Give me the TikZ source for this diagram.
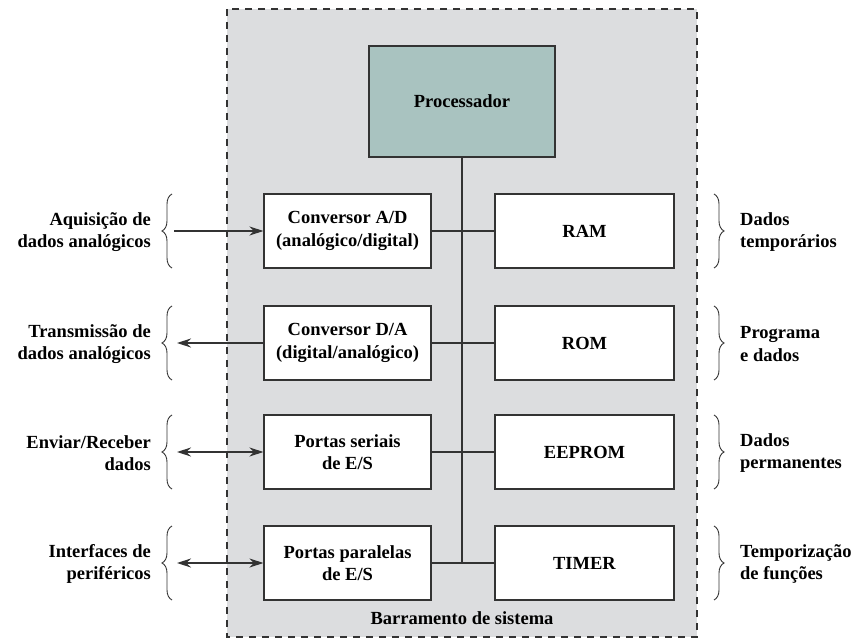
\documentclass[tikz,border=0pt]{standalone}
\usepackage{fontspec}
\setmainfont{Liberation Serif}
\usetikzlibrary{arrows.meta,decorations.pathreplacing}
\definecolor{bggray}{HTML}{DCDDDF}
\definecolor{proc}{HTML}{A9C3C0}
\definecolor{edge}{HTML}{333333}
\begin{document}
\begin{tikzpicture}[x=1pt,y=-1pt,
  txt/.style={font=\bfseries\fontsize{18.5}{22.5}\selectfont},
  box/.style={txt,draw=edge,line width=1.1pt,fill=white,minimum width=167pt,minimum height=74pt,inner sep=0pt,align=center},
  rbox/.style={box,minimum width=179pt},
  lbl/.style={txt,align=right,inner sep=0pt},
  rlbl/.style={txt,align=left,inner sep=0pt},
  brc/.style={draw=edge,line width=0.9pt,decorate,decoration={brace,amplitude=10pt}},
  conn/.style={draw=edge,line width=1.1pt},
  arr/.style={conn,-{Stealth[length=14pt,width=9pt]}},
  darr/.style={conn,{Stealth[length=14pt,width=9pt]}-{Stealth[length=14pt,width=9pt]}}]
\useasboundingbox (0,0) rectangle (856,639);
\fill[bggray] (227,9) rectangle (697,637);
\draw[edge,line width=2.2pt,dash pattern=on 7pt off 6pt] (227,9) rectangle (697,637);
\node[box,fill=proc,minimum width=186pt,minimum height=111pt] (p) at (462,101.5) {Processador};
\node[box] (ad) at (347.5,231) {Conversor A/D\\(analógico/digital)};
\node[box] (da) at (347.5,343) {Conversor D/A\\(digital/analógico)};
\node[box] (ser) at (347.5,452) {Portas seriais\\de E/S};
\node[box] (par) at (347.5,563) {Portas paralelas\\de E/S};
\node[rbox] (ram) at (584.5,231) {RAM};
\node[rbox] (rom) at (584.5,343) {ROM};
\node[rbox] (eep) at (584.5,452) {EEPROM};
\node[rbox] (tim) at (584.5,563) {TIMER};
\node[txt,inner sep=0pt] (bus) at (462,618) {Barramento de sistema};
% bus
\coordinate (busend) at (462,563);
\draw[conn] (p.south) -- (busend);
\draw[conn] (ad.east) -- (ram.west);
\draw[conn] (da.east) -- (rom.west);
\draw[conn] (ser.east) -- (eep.west);
\draw[conn] (par.east) -- (tim.west);
% left labels
\node[lbl,anchor=east] (l1) at (151,232) {Aquisição de\\dados analógicos};
\node[lbl,anchor=east] (l2) at (151,344) {Transmissão de\\dados analógicos};
\node[lbl,anchor=east] (l3) at (151,453) {Enviar/Receber\\dados};
\node[lbl,anchor=east] (l4) at (151,564) {Interfaces de\\periféricos};
\foreach \y/\n in {231/1,343/2,452/3,563/4}{
  \draw[brc] (172,\y+37) -- (172,\y-37);
  \coordinate (bt\n) at (172,\y);
}
\draw[arr] ([xshift=2pt]bt1) -- (ad.west);
\draw[arr] (da.west) -- ([xshift=5pt]bt2);
\draw[darr] ([xshift=5pt]bt3) -- (ser.west);
\draw[darr] ([xshift=5pt]bt4) -- (par.west);
% right labels
\foreach \y/\n in {231/1,343/2,452/3,563/4}{
  \draw[brc] (714,\y-37) -- (714,\y+37);
}
\node[rlbl,anchor=west] (r1) at (740,232) {Dados\\temporários};
\node[rlbl,anchor=west] (r2) at (740,344) {Programa\\e dados};
\node[rlbl,anchor=west] (r3) at (740,453) {Dados\\permanentes};
\node[rlbl,anchor=west] (r4) at (740,564) {Temporização\\de funções};
\end{tikzpicture}
\end{document}
